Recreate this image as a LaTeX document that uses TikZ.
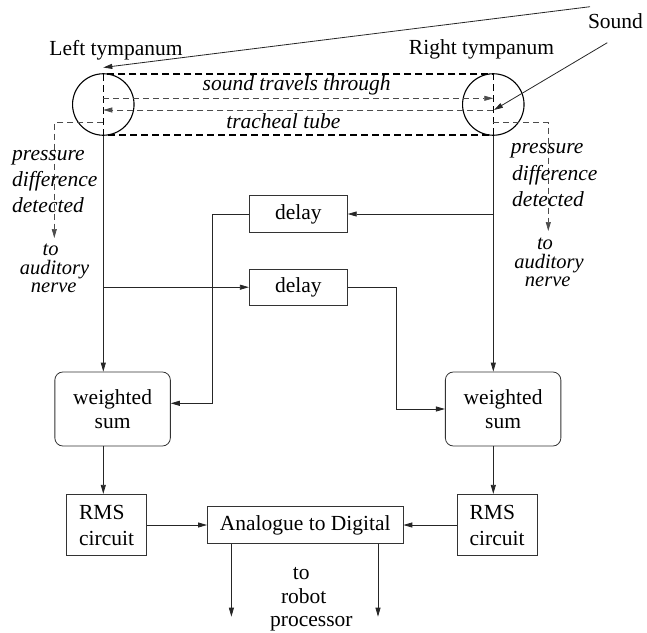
\documentclass[tikz,border=0pt]{standalone}
\usepackage{fontspec}
\setmainfont{Liberation Serif}
\usetikzlibrary{arrows.meta}
\begin{document}
\begin{tikzpicture}[x=1pt,y=-1pt,
  every node/.style={font=\fontsize{21.5}{26}\selectfont, inner sep=0pt},
  ln/.style={draw=black!85, line width=0.8pt},
  arr/.style={ln, -{Triangle[length=9pt,width=5pt]}},
  darr/.style={draw=black!70, line width=0.7pt, dash pattern=on 6pt off 4pt, -{Triangle[length=9pt,width=5pt]}},
  tube/.style={draw=black, line width=1.1pt, dash pattern=on 7pt off 4pt},
  drum/.style={draw=black, line width=1.1pt, circle, minimum size=61.5pt},
  boxx/.style={draw=black!80, line width=0.8pt, rectangle, align=center},
  wbox/.style={boxx, rounded corners=8pt, minimum width=115.5pt, minimum height=74pt, font=\fontsize{21.5}{24}\selectfont},
  rbox/.style={boxx, align=left, minimum width=80.2pt, minimum height=61.4pt, font=\fontsize{21.5}{26}\selectfont},
  lab/.style={anchor=base},
  ilab/.style={anchor=base, font=\fontsize{21.5}{26}\selectfont\itshape},
  slab/.style={anchor=base, font=\fontsize{20.5}{20}\selectfont\itshape},
]
\useasboundingbox (0,0) rectangle (647,632);

% tympana
\node[drum] (lc) at (103.3,104.5) {};
\node[drum] (rc) at (493.3,104.5) {};
\coordinate (lct) at (103.3,74);
\coordinate (rcb) at (493.3,135);
\draw[tube] (lct) rectangle (rcb);

% labels
\node[lab] (ltl) at (116,55) {Left tympanum};
\node[lab] (rtl) at (481.5,54.5) {Right tympanum};
\node[lab] (snd) at (615.5,28) {Sound};
\node[ilab] (stt) at (296.7,90.7) {sound travels through};
\node[ilab] (ttb) at (283.3,128.5) {tracheal tube};

% incoming sound
\coordinate (s1) at (590,6.7);
\coordinate (s1e) at (103.3,67.5);
\draw[arr] (s1) -- (s1e);
\coordinate (s2) at (607.3,42.7);
\coordinate (s2e) at (494,110);
\draw[arr] (s2) -- (s2e);

% inside tube
\draw[darr] (lc.center |- 0,98.3) -- (rc.center |- 0,98.3);
\draw[darr] (rc.center |- 0,110) -- (lc.center |- 0,110);

% pressure difference lines
\coordinate (lpe) at (54.3,238);
\coordinate (rpe) at (548.3,231);
\draw[darr] (lc.center |- 0,122.7) -| (lpe);
\draw[darr] (rc.center |- 0,122.7) -| (rpe);

\node[ilab, anchor=base west] (lp1) at (12,160) {pressure};
\node[ilab, anchor=base west] (lp2) at (12,186) {difference};
\node[ilab, anchor=base west] (lp3) at (12,212) {detected};
\node[slab] (la1) at (50.7,255) {to};
\node[slab] (la2) at (54.5,274) {auditory};
\node[slab] (la3) at (53.7,292.5) {nerve};

\node[ilab, anchor=base west] (rp1) at (510.7,153.3) {pressure};
\node[ilab, anchor=base west] (rp2) at (512,180) {difference};
\node[ilab, anchor=base west] (rp3) at (512,206) {detected};
\node[slab] (ra1) at (545,249.5) {to};
\node[slab] (ra2) at (549,268) {auditory};
\node[slab] (ra3) at (547.7,286.5) {nerve};

% boxes
\node[boxx, minimum width=98pt, minimum height=36.3pt] (d1) at (298.3,214) {delay};
\node[boxx, minimum width=98pt, minimum height=36.3pt] (d2) at (298.3,287.2) {delay};
\node[wbox] (wl) at (112.6,409) {weighted\\sum};
\node[wbox] (wr) at (503.1,409) {weighted\\sum};
\node[rbox] (rl) at (106.6,525) {RMS\\circuit};
\node[rbox] (rr) at (497.1,525) {RMS\\circuit};
\node[boxx, minimum width=195.5pt, minimum height=36.6pt] (ad) at (305.2,525) {Analogue to Digital};

% main verticals
\draw[arr] (lc.south) -- (lc.south |- wl.north);
\draw[arr] (rc.south) -- (rc.south |- wr.north);

% delays
\draw[arr] (rc.south |- d1.east) -- (d1.east);
\draw[arr] (d1.west) -- (212.7,214) -- (212.7,403.3) -- (wl.east |- 0,403.3);
\draw[arr] (lc.south |- d2.west) -- (d2.west);
\draw[arr] (d2.east) -- (396,287.2) -- (396,409) -- (wr.west);

% to RMS
\draw[arr] (lc.south |- wl.south) -- (lc.south |- rl.north);
\draw[arr] (rc.south |- wr.south) -- (rc.south |- rr.north);
\draw[arr] (rl.east) -- (ad.west);
\draw[arr] (rr.west) -- (ad.east);

% outputs
\coordinate (o1) at (231.4,616.7);
\coordinate (o2) at (378,616.7);
\draw[arr] (o1 |- ad.south) -- (o1);
\draw[arr] (o2 |- ad.south) -- (o2);
\node[lab] (tr1) at (301.3,579.3) {to};
\node[lab] (tr2) at (303.7,603.3) {robot};
\node[lab] (tr3) at (311.4,626.7) {processor};
\end{tikzpicture}
\end{document}
